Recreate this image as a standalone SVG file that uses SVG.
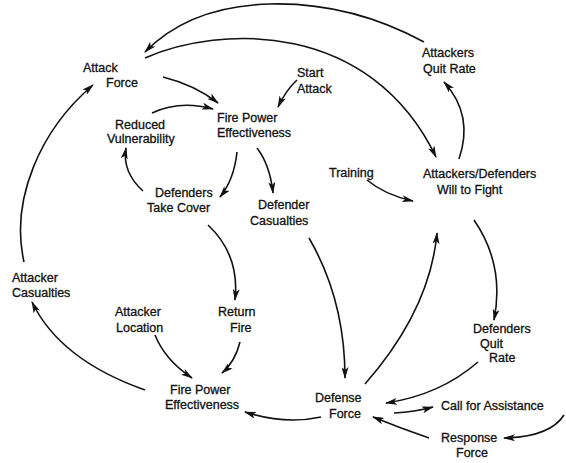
<svg xmlns="http://www.w3.org/2000/svg" width="566" height="463" viewBox="0 0 566 463">
<style>
text{font-family:"Liberation Sans",Arial,sans-serif;font-size:12.5px;fill:#111;stroke:#111;stroke-width:0.3;}
.c path{fill:none;stroke:#111;stroke-width:1.6;marker-end:url(#ah);}
</style>
<defs>
<marker id="ah" viewBox="0 0 12 7" refX="11" refY="3.5" markerWidth="12" markerHeight="7" markerUnits="userSpaceOnUse" orient="auto">
<path d="M0,0 L12,3.5 L0,7 L3,3.5 z" fill="#111"/>
</marker>
</defs>
<rect width="566" height="463" fill="#fff"/>
<g class="c" id="connectors">
<path d="M424,42 Q350,2 270,4 T145,52"/>
<path d="M145,58 C220,25 370,20 436,157"/>
<path d="M163,77 Q195,85 218,103"/>
<path d="M152,113 Q180,100 213,109"/>
<path d="M297,80 Q286,90 278,107"/>
<path d="M237,152 Q234,180 220,197"/>
<path d="M257,148 Q270,165 273,193"/>
<path d="M143,191 Q122,172 126,148"/>
<path d="M459,159 Q474,115 444,82"/>
<path d="M367,180 Q385,195 413,201"/>
<path d="M309,238 Q345,300 345,378"/>
<path d="M365,384 Q430,310 437,233"/>
<path d="M474,220 Q505,265 494,320"/>
<path d="M478,362 Q440,395 386,403"/>
<path d="M394,413 Q415,412 433,407"/>
<path d="M429,438 Q400,428 373,417"/>
<path d="M564,415 Q550,437 504,438"/>
<path d="M321,417 Q285,425 245,412"/>
<path d="M145,390 Q60,360 32,302"/>
<path d="M24,262 C10,200 40,130 93,85"/>
<path d="M208,225 Q240,255 235,300"/>
<path d="M155,335 Q165,360 192,378"/>
<path d="M240,342 Q235,362 222,373"/>
</g>
<g id="attack-force"><text x="83" y="72">Attack</text><text x="106" y="87">Force</text></g>
<g id="start-attack"><text x="297" y="77">Start</text><text x="297" y="93">Attack</text></g>
<g id="attackers-quit-rate"><text x="422" y="57">Attackers</text><text x="423" y="73">Quit Rate</text></g>
<g id="reduced-vulnerability"><text x="115" y="129">Reduced</text><text x="107" y="143">Vulnerability</text></g>
<g id="fire-power-top"><text x="217" y="122">Fire Power</text><text x="217" y="137">Effectiveness</text></g>
<g id="defenders-take-cover"><text x="155" y="197">Defenders</text><text x="147" y="212">Take Cover</text></g>
<g id="defender-casualties"><text x="258" y="209">Defender</text><text x="250" y="225">Casualties</text></g>
<g id="training"><text x="329" y="177">Training</text></g>
<g id="will-to-fight"><text x="423" y="178">Attackers/Defenders</text><text x="437" y="194">Will to Fight</text></g>
<g id="attacker-casualties"><text x="12" y="282">Attacker</text><text x="12" y="297">Casualties</text></g>
<g id="attacker-location"><text x="115" y="316">Attacker</text><text x="116" y="332">Location</text></g>
<g id="return-fire"><text x="218" y="316">Return</text><text x="230" y="332">Fire</text></g>
<g id="fire-power-bottom"><text x="170" y="394">Fire Power</text><text x="165" y="409">Effectiveness</text></g>
<g id="defense-force"><text x="315" y="402">Defense</text><text x="329" y="418">Force</text></g>
<g id="defenders-quit-rate"><text x="473" y="333">Defenders</text><text x="480" y="348">Quit</text><text x="489" y="362">Rate</text></g>
<g id="call-for-assistance"><text x="441" y="410">Call for Assistance</text></g>
<g id="response-force"><text x="441" y="442">Response</text><text x="456" y="457">Force</text></g>
</svg>
